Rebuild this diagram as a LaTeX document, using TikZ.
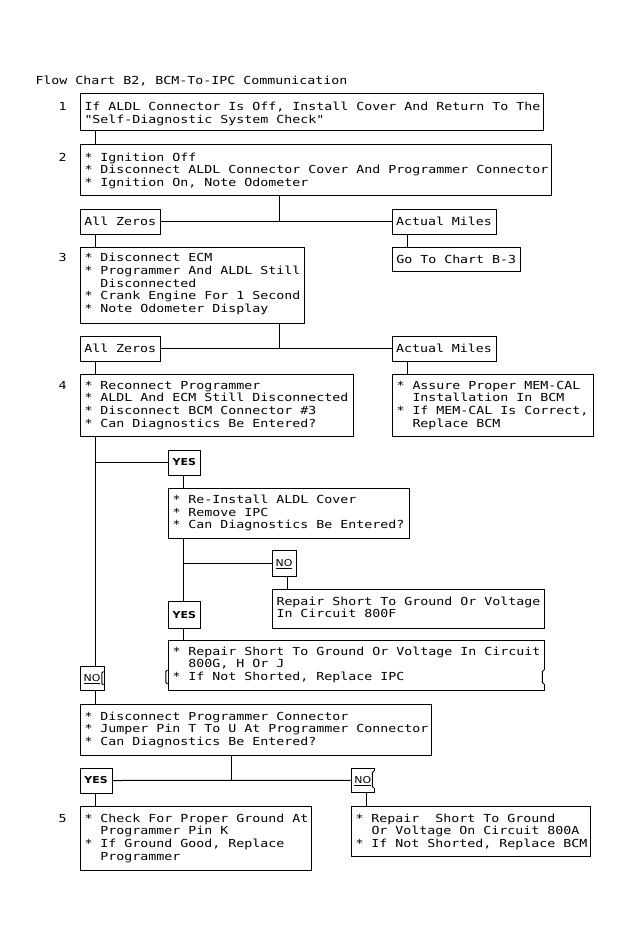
\documentclass[tikz,border=0pt]{standalone}
\usepackage{fontspec}
\newfontfamily\monof{DejaVu Sans Mono}[FakeStretch=1.2]
\newfontfamily\yesfont{DejaVu Sans}[FakeStretch=1.15]
\newcommand\mono{\monof\fontsize{11.07pt}{12.7pt}\selectfont}
\newcommand\yesf{\yesfont\bfseries\fontsize{9.5pt}{11pt}\selectfont}
\newcommand\nof{\yesfont\fontsize{9.5pt}{11pt}\selectfont}
\newcommand\ind{\hphantom{**}}
\newcommand\lines[1]{\begin{tabular}[t]{@{}l@{}}#1\end{tabular}}
\newcommand\mkbox[6]{\node[#1, minimum width={#5-#3}, minimum height={#6-#4}] (#2) at (#3,#4)}
% a small jog ("[" mark) on a vertical box edge: x, y-from, y-to, dx
\newcommand\jog[4]{%
  \draw[white, line width=1.3pt] (#1,#2) -- (#1,#3);
  \draw (#1,#2) -- (#1+#4,#2+1.5) -- (#1+#4,#3-1.5) -- (#1,#3);}
\tikzset{
  bx/.style={draw, inner sep=0pt, anchor=north west},
  lb/.style={draw, inner sep=0pt, anchor=north west, font=\mono, text height=8pt, text depth=0pt},
  tx/.style={font=\mono, inner sep=0pt, anchor=base west},
  yb/.style={draw, inner sep=0pt, anchor=north west, font=\yesf, text height=6.9pt, text depth=0pt},
  nb/.style={draw, inner sep=0pt, anchor=north west, font=\nof, text height=6.9pt, text depth=0pt},
  num/.style={font=\mono, inner sep=0pt, anchor=base},
}
\begin{document}
\begin{tikzpicture}[x=1pt, y=-1pt, line width=1pt]
\useasboundingbox[fill=white] (0,0) rectangle (630,944);

% title and step numbers
\node[tx] (title) at (35,85) {Flow Chart B2, BCM-To-IPC Communication};
\node[num] (n1) at (62.5,110.5) {1};
\node[num] (n2) at (62.5,161) {2};
\node[num] (n3) at (62.5,261.7) {3};
\node[num] (n4) at (62.5,389) {4};
\node[num] (n5) at (62.5,822) {5};

% boxes
\mkbox{bx}{b1}{79.5}{93.5}{543}{130.5}{};
\mkbox{bx}{b2}{79.5}{144.5}{551}{195}{};
\mkbox{lb}{az1}{79.5}{208.5}{160}{233.5}{All Zeros};
\mkbox{lb}{am1}{391.5}{208.5}{495.5}{233.5}{Actual Miles};
\mkbox{bx}{b3}{79.5}{246.5}{304}{322.5}{};
\mkbox{lb}{go}{391.5}{246.5}{520}{271}{Go To Chart B-3};
\mkbox{lb}{az2}{79.5}{335.5}{160}{360.5}{All Zeros};
\mkbox{lb}{am2}{391.5}{335.5}{495.5}{360.5}{Actual Miles};
\mkbox{bx}{b4}{79.5}{373.5}{352.5}{436}{};
\mkbox{bx}{mc}{391.5}{373.5}{593}{436}{};
\mkbox{yb}{yes1}{167.5}{449.5}{200}{474.5}{YES};
\mkbox{bx}{b5}{167.5}{487.5}{408.5}{538}{};
\mkbox{nb}{no1}{271.5}{550}{295.5}{576}{\underline{NO}};
\mkbox{bx}{r800f}{271.5}{588.5}{544}{627.5}{};
\mkbox{yb}{yes2}{167.5}{601}{200}{627.5}{YES};
\mkbox{bx}{b6}{167.5}{639.5}{544}{690}{};
\mkbox{nb}{no2}{79.5}{665.5}{103.5}{690}{\underline{NO}};
\mkbox{bx}{b7}{79.5}{703.5}{431}{755}{};
\mkbox{yb}{yes3}{79.5}{767.5}{111.5}{792.5}{YES};
\mkbox{nb}{no3}{350.5}{767.5}{374}{792}{\underline{NO}};
\mkbox{bx}{b8}{79.5}{805.5}{311}{870}{};
\mkbox{bx}{b9}{350.5}{805.5}{589.5}{856}{};

% small edge marks seen in the original
\jog{103.5}{671.5}{685}{-1.6}
\jog{374}{771}{788}{-1.6}
\jog{167.5}{670}{684}{-1.6}
\jog{544}{670}{684}{-1.6}

% texts
\node[tx] (b1t) at (84,110.5) {\lines{If ALDL Connector Is Off, Install Cover And Return To The\\"Self-Diagnostic System Check"}};
\node[tx] (b2t) at (84,161) {\lines{{*} Ignition Off\\{*} Disconnect ALDL Connector Cover And Programmer Connector\\{*} Ignition On, Note Odometer}};
\node[tx] (b3t) at (84,261.7) {\lines{{*} Disconnect ECM\\{*} Programmer And ALDL Still\\\ind Disconnected\\{*} Crank Engine For 1 Second\\{*} Note Odometer Display}};
\node[tx] (b4t) at (84,389) {\lines{{*} Reconnect Programmer\\{*} ALDL And ECM Still Disconnected\\{*} Disconnect BCM Connector \#3\\{*} Can Diagnostics Be Entered?}};
\node[tx] (mct) at (396,389) {\lines{{*} Assure Proper MEM-CAL\\\ind Installation In BCM\\{*} If MEM-CAL Is Correct,\\\ind Replace BCM}};
\node[tx] (b5t) at (172,503.3) {\lines{{*} Re-Install ALDL Cover\\{*} Remove IPC\\{*} Can Diagnostics Be Entered?}};
\node[tx] (r800ft) at (276,605) {\lines{Repair Short To Ground Or Voltage\\In Circuit 800F}};
\node[tx] (b6t) at (172,655) {\lines{{*} Repair Short To Ground Or Voltage In Circuit\\\ind 800G, H Or J\\{*} If Not Shorted, Replace IPC}};
\node[tx] (b7t) at (84,720) {\lines{{*} Disconnect Programmer Connector\\{*} Jumper Pin T To U At Programmer Connector\\{*} Can Diagnostics Be Entered?}};
\node[tx] (b8t) at (84,822) {\lines{{*} Check For Proper Ground At\\\ind Programmer Pin K\\{*} If Ground Good, Replace\\\ind Programmer}};
\node[tx] (b9t) at (355,822) {\lines{{*} Repair~ Short To Ground\\\ind Or Voltage On Circuit 800A\\{*} If Not Shorted, Replace BCM}};

% connectors
\draw ([xshift=16pt]b1.south west) -- ([xshift=16pt]b2.north west);
\coordinate (j1) at (279.5,221);
\draw (j1 |- b2.south) -- (j1);
\draw (az1.east) -- (am1.west);
\draw ([xshift=16pt]az1.south west) -- ([xshift=16pt]b3.north west);
\draw ([xshift=16pt]am1.south west) -- ([xshift=16pt]go.north west);
\coordinate (j2) at (279.5,348);
\draw (j2 |- b3.south) -- (j2);
\draw (az2.east) -- (am2.west);
\draw ([xshift=16pt]az2.south west) -- ([xshift=16pt]b4.north west);
\draw ([xshift=16pt]am2.south west) -- ([xshift=16pt]mc.north west);
\draw ([xshift=16pt]b4.south west) coordinate (l1) -- ([xshift=16pt]no2.north west);
\draw (yes1.west) -- (yes1.west -| l1);
\draw ([xshift=16pt]yes1.south west) -- ([xshift=16pt]b5.north west);
\draw ([xshift=16pt]b5.south west) coordinate (l2) -- ([xshift=16pt]yes2.north west);
\draw (no1.west) -- (no1.west -| l2);
\draw ([xshift=16pt]no1.south west) -- ([xshift=16pt]r800f.north west);
\draw ([xshift=16pt]yes2.south west) -- ([xshift=16pt]b6.north west);
\draw ([xshift=16pt]no2.south west) -- ([xshift=16pt]b7.north west);
\coordinate (j3) at (231,780);
\draw (j3 |- b7.south) -- (j3);
\draw (yes3.east) -- (no3.west);
\draw ([xshift=16pt]yes3.south west) -- ([xshift=16pt]b8.north west);
\draw ([xshift=16pt]no3.south west) -- ([xshift=16pt]b9.north west);
\end{tikzpicture}
\end{document}
